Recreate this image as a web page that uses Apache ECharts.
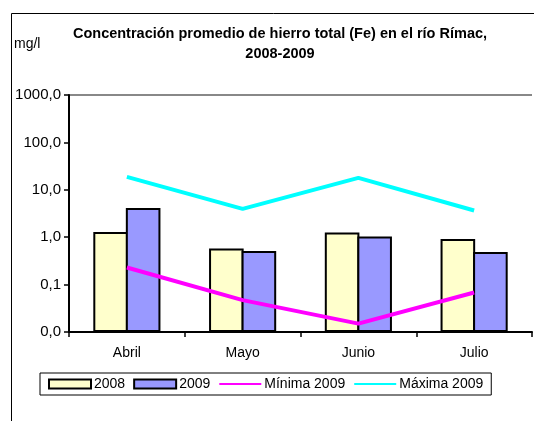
<!DOCTYPE html>
<html>
<head>
<meta charset="utf-8">
<script src="https://cdn.jsdelivr.net/npm/echarts@6/dist/echarts.min.js"></script>
<style>
  html, body { margin: 0; padding: 0; background: #fff; }
  #chart { width: 534px; height: 421px; }
</style>
</head>
<body>
<div id="chart"></div>
<script>
// monthly averages of total iron, log scale (mg/l)
var months = ['Abril', 'Mayo', 'Junio', 'Julio'];
var avg2008 = [1.29, 0.58, 1.26, 0.92];
var avg2009 = [4.15, 0.51, 1.03, 0.49];
var min2009 = [0.23, 0.047, 0.015, 0.068];
var max2009 = [18.7, 3.95, 17.8, 3.66];

var font = 'Liberation Sans, Arial, sans-serif';
var chart = echarts.init(document.getElementById('chart'));

chart.setOption({
    animation: false,
    textStyle: { fontFamily: font },
    title: {
        text: 'Concentración promedio de hierro total (Fe) en el río Rímac,\n2008-2009',
        left: 275,
        textAlign: 'center',
        top: 19,
        textStyle: { fontSize: 14.5, fontWeight: 'bold', color: '#000', lineHeight: 20, fontFamily: font }
    },
    graphic: [
        {
            type: 'rect',
            shape: { x: 11.5, y: 13.5, width: 600, height: 500 },
            style: { fill: 'none', stroke: '#000', lineWidth: 1 },
            silent: true
        },
        {
            type: 'text',
            left: 14,
            top: 37,
            style: { text: 'mg/l', fontSize: 14, fill: '#000', fontFamily: font }
        }
    ],
    grid: { left: 69, right: 2, top: 95, bottom: 89 },
    legend: {
        left: 40,
        top: 373,
        padding: [4, 8],
        itemGap: 8,
        itemWidth: 42,
        itemHeight: 9,
        borderColor: '#000',
        borderWidth: 1,
        textStyle: { fontSize: 14, color: '#000', fontFamily: font, padding: [0, 0, 0, -2] },
        data: [
            { name: '2008', icon: 'rect' },
            { name: '2009', icon: 'rect' },
            { name: 'Mínima 2009', itemStyle: { opacity: 0 } },
            { name: 'Máxima 2009', itemStyle: { opacity: 0 } }
        ]
    },
    xAxis: {
        type: 'category',
        data: months,
        axisLine: { lineStyle: { color: '#000', width: 2 } },
        axisTick: { show: true, length: 5, lineStyle: { color: '#000', width: 1.5 } },
        axisLabel: { color: '#000', fontSize: 14, margin: 14, fontFamily: font }
    },
    yAxis: {
        type: 'log',
        logBase: 10,
        min: 0.01,
        max: 1000,
        startValue: 0.01,
        axisLine: { show: true, lineStyle: { color: '#000', width: 2 } },
        axisTick: { show: true, length: 5, lineStyle: { color: '#000', width: 1.5 } },
        axisLabel: {
            color: '#000',
            fontSize: 15,
            margin: 8,
            fontFamily: font,
            formatter: function (v) { return v.toFixed(1).replace('.', ','); }
        },
        splitLine: {
            show: true,
            lineStyle: {
                color: ['rgba(0,0,0,0)', 'rgba(0,0,0,0)', 'rgba(0,0,0,0)', 'rgba(0,0,0,0)', 'rgba(0,0,0,0)', '#888'],
                width: 2
            }
        }
    },
    series: [
        {
            name: '2008',
            type: 'bar',
            data: avg2008,
            barGap: '-6%',
            barCategoryGap: '42%',
            itemStyle: { color: '#FFFFCC', borderColor: '#000', borderWidth: 2, borderRadius: 0 }
        },
        {
            name: '2009',
            type: 'bar',
            data: avg2009,
            barGap: '-6%',
            barCategoryGap: '42%',
            itemStyle: { color: '#9999FF', borderColor: '#000', borderWidth: 2, borderRadius: 0 }
        },
        {
            name: 'Mínima 2009',
            type: 'line',
            data: min2009,
            symbol: 'none',
            color: '#FF00FF',
            lineStyle: { color: '#FF00FF', width: 4 }
        },
        {
            name: 'Máxima 2009',
            type: 'line',
            data: max2009,
            symbol: 'none',
            color: '#00FFFF',
            lineStyle: { color: '#00FFFF', width: 4 }
        }
    ]
});
</script>
</body>
</html>
